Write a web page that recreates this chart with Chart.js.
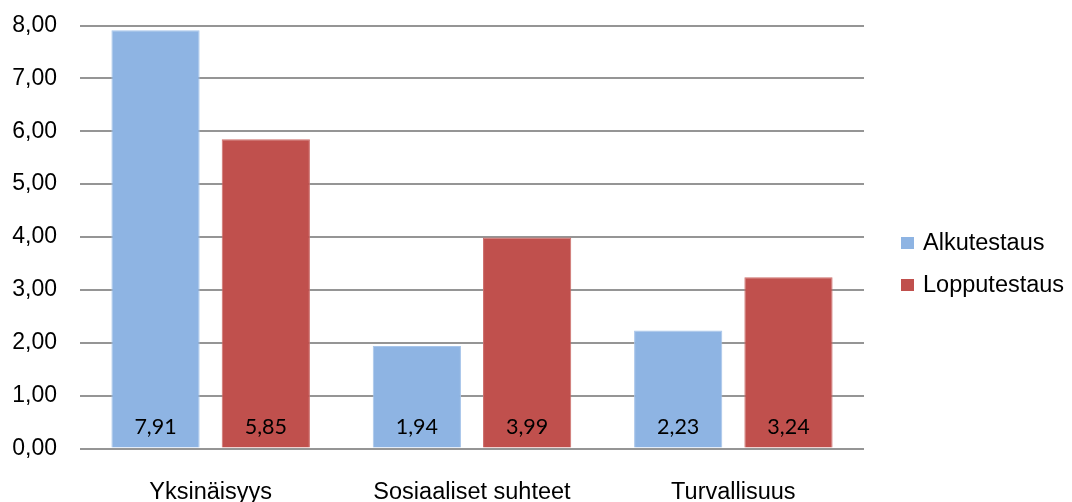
<!DOCTYPE html>
<html lang="fi">
<head>
<meta charset="utf-8">
<title>Alkutestaus ja lopputestaus</title>
<script src="https://cdn.jsdelivr.net/npm/chart.js@4/dist/chart.umd.min.js"></script>
<style>
  html, body { margin: 0; padding: 0; background: #ffffff; }
  #wrap { width: 1072px; height: 502px; position: relative; }
</style>
</head>
<body>
<div id="wrap"><canvas id="chart"></canvas></div>
<script>
// Categories and measured means
const categories = ['Yksinäisyys', 'Sosiaaliset suhteet', 'Turvallisuus'];
const seriesNames = ['Alkutestaus', 'Lopputestaus'];
const alkutestaus = [7.91, 1.94, 2.23];
const lopputestaus = [5.85, 3.99, 3.24];
const yTicks = [0, 1, 2, 3, 4, 5, 6, 7, 8];

const BLUE = '#8EB4E3';
const RED = '#C0504D';
const AXIS_FONT = '"Liberation Sans", Arial, sans-serif';

const fmt = v => Number(v).toFixed(2).replace('.', ',');

// Value labels drawn inside each bar, near its base
const barValueLabels = {
  id: 'barValueLabels',
  afterDatasetsDraw(chart) {
    const ctx = chart.ctx;
    ctx.save();
    ctx.font = '21.5px Lato, "Open Sans", sans-serif';
    ctx.fillStyle = '#000000';
    ctx.textAlign = 'center';
    ctx.textBaseline = 'middle';
    chart.data.datasets.forEach((ds, i) => {
      chart.getDatasetMeta(i).data.forEach((bar, j) => {
        ctx.fillText(fmt(ds.data[j]), bar.x, bar.base - 20.5);
      });
    });
    ctx.restore();
  }
};

// Legend at the right: square swatch followed by the series name
const sideLegend = {
  id: 'sideLegend',
  afterDraw(chart) {
    const ctx = chart.ctx;
    const area = chart.chartArea;
    const x0 = area.right + 37;
    const yMid = 265;
    const step = 42;
    const n = chart.data.datasets.length;
    ctx.save();
    ctx.font = '23.5px ' + AXIS_FONT;
    ctx.textAlign = 'left';
    ctx.textBaseline = 'middle';
    chart.data.datasets.forEach((ds, i) => {
      const y = yMid + (i - (n - 1) / 2) * step;
      ctx.fillStyle = ds.backgroundColor;
      ctx.fillRect(x0, y - 7, 13, 12);
      ctx.fillStyle = '#000000';
      ctx.fillText(ds.label, x0 + 22, y);
    });
    ctx.restore();
  }
};

new Chart(document.getElementById('chart'), {
  type: 'bar',
  data: {
    labels: categories,
    datasets: [
      { label: seriesNames[0], data: alkutestaus, backgroundColor: BLUE,
        borderColor: '#A7C5EA', borderWidth: 1 },
      { label: seriesNames[1], data: lopputestaus, backgroundColor: RED,
        borderColor: '#CD6E6B', borderWidth: 1 }
    ]
  },
  options: {
    responsive: true,
    maintainAspectRatio: false,
    animation: false,
    events: [],
    layout: { padding: { top: 25.5, right: 208, bottom: 0, left: 0 } },
    datasets: {
      bar: { categoryPercentage: 0.844, barPercentage: 0.8 }
    },
    plugins: {
      legend: { display: false },
      tooltip: { enabled: false },
      title: { display: false }
    },
    scales: {
      x: {
        afterFit(scale) { scale.height = 53.5; },
        grid: { display: false, drawTicks: false },
        border: { display: false },
        ticks: {
          color: '#000000',
          font: { family: AXIS_FONT, size: 23.5 },
          padding: 30,
          maxRotation: 0
        }
      },
      y: {
        min: 0,
        max: 8,
        afterFit(scale) {
          scale.width = 80;
          scale.paddingTop = 0;
          scale.paddingBottom = 0;
        },
        afterBuildTicks(scale) { scale.ticks = yTicks.map(v => ({ value: v })); },
        grid: { color: '#959595', lineWidth: 2, drawTicks: false },
        border: { display: false },
        ticks: {
          color: '#000000',
          font: { family: AXIS_FONT, size: 23 },
          padding: 23,
          callback: v => fmt(v)
        }
      }
    }
  },
  plugins: [barValueLabels, sideLegend]
});
</script>
</body>
</html>
